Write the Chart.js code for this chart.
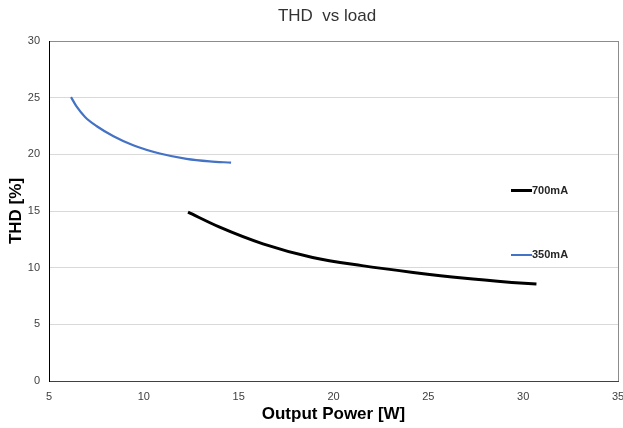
<!DOCTYPE html>
<html>
<head>
<meta charset="utf-8">
<script src="https://cdn.jsdelivr.net/npm/chart.js@4.4.1/dist/chart.umd.min.js"></script>
<style>
  body { margin: 0; background: #fff; }
  #wrap { width: 623px; height: 428px; position: relative; }
</style>
</head>
<body>
<div id="wrap"><canvas id="myChart1"></canvas></div>
<script>
// values
var power350 = [6.16, 6.46, 6.9, 7.5, 8.4, 9.44, 10.84, 12.25, 13.47, 14.6];
var thd350   = [25.05, 24.2, 23.3, 22.5, 21.6, 20.8, 20.07, 19.6, 19.38, 19.27];

var power700 = [12.33, 14.0, 16.28, 18.9, 21.5, 24.2, 26.8, 29.4, 30.7];
var thd700   = [14.9, 13.57, 12.1, 10.9, 10.18, 9.58, 9.08, 8.7, 8.55];

var xTicks = [5, 10, 15, 20, 25, 30, 35];
var yTicks = [0, 5, 10, 15, 20, 25, 30];

var seriesNames = ["700mA", "350mA"];
var seriesColors = ["#000000", "#4472C4"];

function toPoints(xs, ys) {
    var pts = [];
    for (var i in xs) {
        pts.push({ x: xs[i], y: ys[i] });
    }
    return pts;
}

var FONT = "'Liberation Sans', Arial, sans-serif";

// chart title and in-plot legend
var extras = {
    id: "extras",
    afterDraw: function(chart) {
        var ctx = chart.ctx;
        var area = chart.chartArea;
        ctx.save();
        ctx.fillStyle = "#333333";
        ctx.font = "17px " + FONT;
        ctx.textAlign = "center";
        ctx.textBaseline = "middle";
        ctx.fillText("THD  vs load", 327, 16);

        var rows = [190.5, 255];
        var widths = [3, 2];
        for (var i = 0; i < seriesNames.length; i++) {
            ctx.beginPath();
            ctx.strokeStyle = seriesColors[i];
            ctx.lineWidth = widths[i];
            ctx.moveTo(area.right - 107, rows[i]);
            ctx.lineTo(area.right - 86, rows[i]);
            ctx.stroke();
            ctx.fillStyle = "#262626";
            ctx.font = "bold 11px " + FONT;
            ctx.textAlign = "left";
            ctx.fillText(seriesNames[i], area.right - 86, rows[i]);
        }
        ctx.restore();
    }
};

var chartdata = {
    datasets: [
        {
            label: seriesNames[0],
            data: toPoints(power700, thd700),
            borderColor: seriesColors[0],
            borderWidth: 3,
            showLine: true,
            pointRadius: 0,
            cubicInterpolationMode: "monotone",
            borderCapStyle: "butt"
        },
        {
            label: seriesNames[1],
            data: toPoints(power350, thd350),
            borderColor: seriesColors[1],
            borderWidth: 2.2,
            showLine: true,
            pointRadius: 0,
            cubicInterpolationMode: "monotone"
        }
    ]
};

var ctx = document.getElementById("myChart1");

var LineGraph = new Chart(ctx, {
    type: "scatter",
    data: chartdata,
    plugins: [extras],
    options: {
        responsive: true,
        maintainAspectRatio: false,
        animation: false,
        layout: { padding: { top: 41, right: 5, left: 0, bottom: 0 } },
        plugins: {
            legend: { display: false },
            tooltip: { enabled: false },
            title: { display: false }
        },
        scales: {
            x: {
                type: "linear",
                min: xTicks[0],
                max: xTicks[xTicks.length - 1],
                afterBuildTicks: function(scale) {
                    scale.ticks = xTicks.map(function(v) { return { value: v }; });
                },
                afterFit: function(scale) {
                    scale.height = 47;
                    scale.paddingLeft = 0;
                    scale.paddingRight = 0;
                },
                grid: {
                    drawTicks: false,
                    color: function(c) {
                        return c.tick && c.tick.value === 35 ? "#8c8c8c" : "rgba(0,0,0,0)";
                    }
                },
                border: { color: "#404040", width: 1 },
                ticks: {
                    padding: 9,
                    color: "#404040",
                    font: { family: FONT, size: 11 }
                },
                title: {
                    display: true,
                    text: "Output Power [W]",
                    color: "#000000",
                    font: { family: FONT, size: 17, weight: "bold" },
                    padding: { top: 0, bottom: 3 }
                }
            },
            y: {
                min: yTicks[0],
                max: yTicks[yTicks.length - 1],
                afterBuildTicks: function(scale) {
                    scale.ticks = yTicks.map(function(v) { return { value: v }; });
                },
                afterFit: function(scale) {
                    scale.width = 49;
                    scale.paddingTop = 0;
                    scale.paddingBottom = 0;
                },
                grid: {
                    drawTicks: false,
                    color: function(c) {
                        if (c.tick && c.tick.value === 30) return "#8c8c8c";
                        return "#d9d9d9";
                    }
                },
                border: { color: "#000000", width: 1 },
                ticks: {
                    padding: 9,
                    color: "#404040",
                    font: { family: FONT, size: 11 }
                },
                title: {
                    display: true,
                    text: "THD [%]",
                    color: "#000000",
                    font: { family: FONT, size: 17, weight: "bold" },
                    padding: { top: 6, bottom: 0 }
                }
            }
        }
    }
});
</script>
</body>
</html>
